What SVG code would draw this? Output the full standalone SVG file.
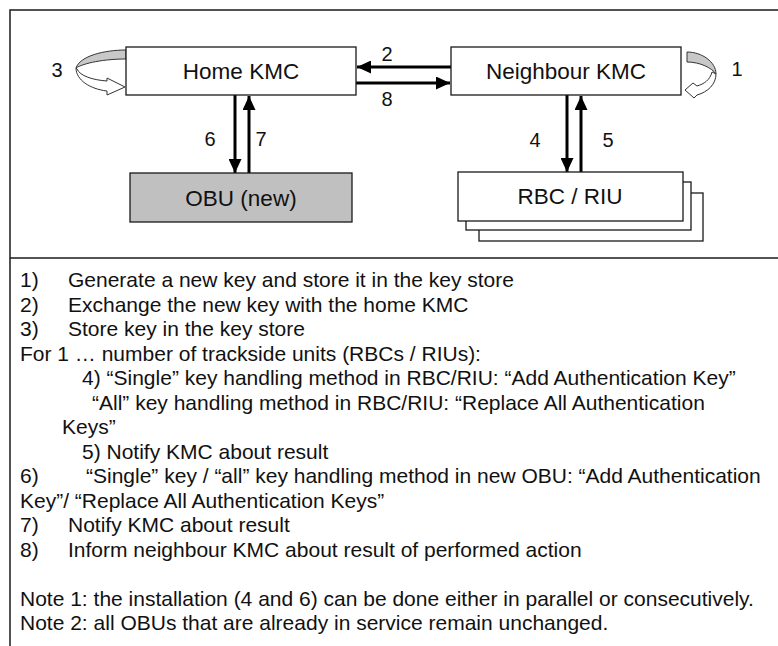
<svg xmlns="http://www.w3.org/2000/svg" width="778" height="646" viewBox="0 0 778 646">
<style>
.box{fill:#fff;stroke:#1a1a1a;stroke-width:1.3}
.obu{fill:#c0c0c0;stroke:#1a1a1a;stroke-width:1.3}
.frame{stroke:#1a1a1a;stroke-width:1.5;fill:none}
.node{font-family:"Liberation Sans",Arial,sans-serif;font-size:22.5px;fill:#111;text-anchor:middle}
.lbl{font-family:"Liberation Sans",Arial,sans-serif;font-size:20px;fill:#111;text-anchor:middle}
.txt{font-family:"Liberation Sans",Arial,sans-serif;font-size:21px;fill:#111}
.conn{stroke:#000;stroke-width:3;fill:none}
.loopg{fill:#c8c8c8;stroke:#333;stroke-width:1}
.loopw{fill:#fff;stroke:#333;stroke-width:1}
</style>
<defs>
<marker id="ah" viewBox="0 0 14 13" refX="14" refY="6.5" markerWidth="14" markerHeight="13" markerUnits="userSpaceOnUse" orient="auto">
<path d="M0,0 L14,6.5 L0,13 Z" fill="#000"/>
</marker>
</defs>
<rect width="778" height="646" fill="#fff"/>
<g id="frame">
<path class="frame" d="M10,646 V10 H778"/>
<line x1="10" y1="258" x2="778" y2="258" stroke="#1a1a1a" stroke-width="1.5"/>
</g>
<g id="connectors">
<line class="conn" x1="451" y1="67" x2="357" y2="67" marker-end="url(#ah)"/>
<line class="conn" x1="356" y1="83" x2="450" y2="83" marker-end="url(#ah)"/>
<line class="conn" x1="235" y1="95" x2="235" y2="173" marker-end="url(#ah)"/>
<line class="conn" x1="249" y1="173" x2="249" y2="96" marker-end="url(#ah)"/>
<line class="conn" x1="567" y1="95" x2="567" y2="172" marker-end="url(#ah)"/>
<line class="conn" x1="581" y1="172" x2="581" y2="96" marker-end="url(#ah)"/>
<g id="loop3">
<path class="loopg" d="M126,50 C104,50 80,56 76,68 C84,63 104,59 126,59 Z"/>
<path class="loopw" d="M76,68 C76,80 90,89 107,91 L107,95 L125,87 L107,78 L107,81 C93,80 80,76 77,69 Z"/>
</g>
<g id="loop1">
<path class="loopg" d="M687,52 C702,52 716,62 716,74 C712,68 700,62 687,62 Z"/>
<path class="loopw" d="M716,74 C716,84 708,92 697,95 L694,98 L685,90 L693,83 L697,86 C704,84 710,80 712,72 Z"/>
</g>
<text class="lbl" x="387" y="61">2</text>
<text class="lbl" x="387" y="106">8</text>
<text class="lbl" x="210" y="146">6</text>
<text class="lbl" x="261" y="146">7</text>
<text class="lbl" x="535" y="147">4</text>
<text class="lbl" x="608" y="147">5</text>
<text class="lbl" x="57" y="77">3</text>
<text class="lbl" x="737" y="76">1</text>
</g>
<g id="home-kmc">
<rect class="box" x="126" y="47" width="230" height="48"/>
<text class="node" x="241" y="79">Home KMC</text>
</g>
<g id="neighbour-kmc">
<rect class="box" x="451" y="47" width="230" height="48"/>
<text class="node" x="566" y="79">Neighbour KMC</text>
</g>
<g id="obu-new">
<rect class="obu" x="130" y="173" width="222" height="49"/>
<text class="node" x="241" y="206">OBU (new)</text>
</g>
<g id="rbc-riu">
<rect class="box" x="479" y="193" width="224" height="48"/>
<rect class="box" x="466" y="182" width="225" height="48"/>
<rect class="box" x="458" y="172" width="225" height="49"/>
<text class="node" x="570" y="204">RBC / RIU</text>
</g>
<g id="legend">
<text class="txt" x="20" y="287">1)</text><text class="txt" x="68" y="287">Generate a new key and store it in the key store</text>
<text class="txt" x="20" y="311.5">2)</text><text class="txt" x="68" y="311.5">Exchange the new key with the home KMC</text>
<text class="txt" x="20" y="336">3)</text><text class="txt" x="68" y="336">Store key in the key store</text>
<text class="txt" x="20" y="360.5">For 1 … number of trackside units (RBCs / RIUs):</text>
<text class="txt" x="82" y="385">4) “Single” key handling method in RBC/RIU: “Add Authentication Key”</text>
<text class="txt" x="92" y="409.5">“All” key handling method in RBC/RIU: “Replace All Authentication</text>
<text class="txt" x="62" y="434">Keys”</text>
<text class="txt" x="82" y="458.5">5) Notify KMC about result</text>
<text class="txt" x="20" y="483">6)</text><text class="txt" x="86" y="483">“Single” key / “all” key handling method in new OBU: “Add Authentication</text>
<text class="txt" x="20" y="507.5">Key”/ “Replace All Authentication Keys”</text>
<text class="txt" x="20" y="532">7)</text><text class="txt" x="68" y="532">Notify KMC about result</text>
<text class="txt" x="20" y="556.5">8)</text><text class="txt" x="68" y="556.5">Inform neighbour KMC about result of performed action</text>
<text class="txt" x="20" y="605.5">Note 1: the installation (4 and 6) can be done either in parallel or consecutively.</text>
<text class="txt" x="20" y="630">Note 2: all OBUs that are already in service remain unchanged.</text>
</g>
</svg>
